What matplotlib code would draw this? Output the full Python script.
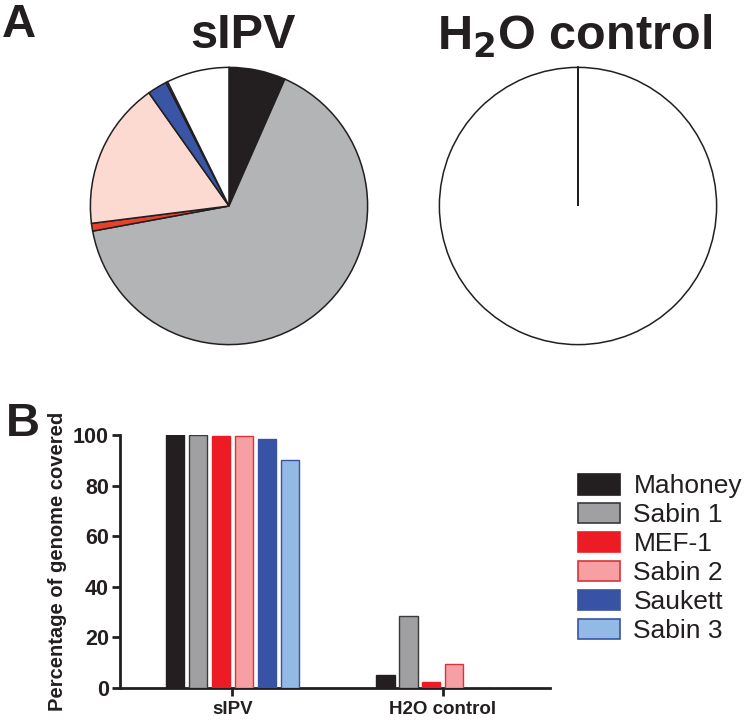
import matplotlib
matplotlib.use("Agg")
import matplotlib.pyplot as plt
import numpy as np
from matplotlib.patches import Patch

plt.rcParams['font.family'] = ['Liberation Sans', 'DejaVu Sans']

# ---------------- data ----------------
strains = ["Mahoney", "Sabin 1", "MEF-1", "Sabin 2", "Saukett", "Sabin 3"]
bar_colors = ["#231F20", "#A0A0A3", "#ED1C24", "#F6A0A4", "#3953A4", "#93BAE4"]
bar_edges = ["#231F20", "#3A3A3A", "#ED1C24", "#D8333A", "#3953A4", "#3953A4"]

groups = ["sIPV", "H2O control"]
coverage_sipv = [100, 100, 99.7, 99.7, 98.3, 90.3]
coverage_h2o = [5.0, 28.4, 2.3, 9.5, 0, 0]

pie_labels = strains + ["Unmapped"]
pie_colors = ["#231F20", "#B3B4B6", "#E8412B", "#FCDAD1", "#3A55A5", "#93BAE4", "#FFFFFF"]
pie_sipv = [6.6, 65.5, 0.9, 17.2, 2.3, 0.2, 7.3]
pie_h2o = [0.0001, 0.0003, 0.0001, 0.0001, 0.0, 0.0, 99.9994]

W, H = 751, 721
fig = plt.figure(figsize=(W / 100, H / 100), dpi=100)


def fr(x0, y0, x1, y1):
    """pixel box (top-left origin) to figure fraction rect"""
    return [x0 / W, 1 - y1 / H, (x1 - x0) / W, (y1 - y0) / H]


# ---------------- pies ----------------
def draw_pie(cx, cy, r, vals):
    ax = fig.add_axes(fr(cx - r, cy - r, cx + r, cy + r))
    ax.pie(vals, colors=pie_colors, startangle=90, counterclock=False,
           radius=1.0, wedgeprops=dict(edgecolor="#231F20", linewidth=1.1))
    ax.set_xlim(-1.01, 1.01)
    ax.set_ylim(-1.01, 1.01)
    ax.set_aspect("equal")
    ax.axis("off")
    return ax


draw_pie(229, 206, 140, pie_sipv)
draw_pie(578, 206, 140, pie_h2o)

fig.text(243 / W, 1 - 36 / H, "sIPV", fontsize=35, fontweight="bold",
         ha="center", va="center", color="#231F20")
fig.text(575 / W, 1 - 36 / H, r"H$_\mathbf{2}$O control", fontsize=35, fontweight="bold",
         ha="center", va="center", color="#231F20")

fig.text(2 / W, 1 - 25 / H, "A", fontsize=34, fontweight="bold",
         ha="left", va="center", color="#231F20")
fig.text(6 / W, 1 - 424 / H, "B", fontsize=34, fontweight="bold",
         ha="left", va="center", color="#231F20")

# ---------------- bars ----------------
ax = fig.add_axes(fr(120, 435, 550, 688))
x = np.arange(len(groups))
step = 0.109
width = 0.087
n = len(strains)
for i in range(n):
    off = (i - (n - 1) / 2) * step
    vals = [coverage_sipv[i], coverage_h2o[i]]
    ax.bar(x + off, vals, width=width, color=bar_colors[i],
           edgecolor=bar_edges[i], linewidth=1.0, label=strains[i], zorder=3)

ax.set_xlim(-0.535, 1.51)
ax.set_ylim(0, 100)
ax.set_yticks([0, 20, 40, 60, 80, 100])
ax.set_xticks(x)
ax.set_xticklabels(groups)
for s in ["top", "right"]:
    ax.spines[s].set_visible(False)
for s in ["left", "bottom"]:
    ax.spines[s].set_linewidth(2)
    ax.spines[s].set_color("#231F20")
ax.tick_params(axis="y", direction="out", length=6, width=2, labelsize=15.5,
               colors="#231F20", pad=2)
ax.tick_params(axis="x", direction="out", length=6, width=2, labelsize=13.5,
               colors="#231F20", pad=3)
for lab in ax.get_yticklabels() + ax.get_xticklabels():
    lab.set_fontweight("bold")
ax.set_ylabel("Percentage of genome covered", fontsize=14.5, fontweight="bold",
              color="#231F20", labelpad=4)

handles = [Patch(facecolor=bar_colors[i], edgecolor=bar_edges[i], linewidth=1.2)
           for i in range(n)]
fig.legend(handles, strains, loc="upper left",
           bbox_to_anchor=(578 / W, 1 - 474 / H), frameon=False,
           fontsize=19, handlelength=1.6, handleheight=0.82,
           handletextpad=0.5, labelspacing=0.17, borderpad=0,
           borderaxespad=0, labelcolor="#231F20")

fig.savefig("out.png", dpi=100)
